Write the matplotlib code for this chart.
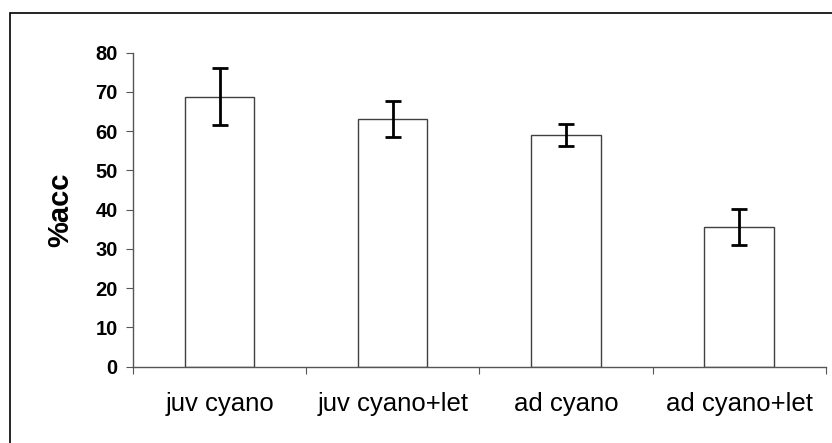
import numpy as np
import matplotlib.pyplot as plt
from matplotlib.patches import Rectangle

categories = ['juv cyano', 'juv cyano+let', 'ad cyano', 'ad cyano+let']
means = [68.8, 63.2, 59.1, 35.7]
errors = [7.2, 4.6, 2.8, 4.6]
yticks = [0, 10, 20, 30, 40, 50, 60, 70, 80]

plt.rcParams['font.family'] = ['Liberation Sans', 'DejaVu Sans']

fig = plt.figure(figsize=(8.32, 4.43), dpi=100)
# outer frame (runs off the right and bottom edges)
fig.patches.append(Rectangle((10 / 832, -0.1), 1.0, 1 - 13 / 443 + 0.1,
                             transform=fig.transFigure, fill=False,
                             edgecolor='black', linewidth=1.2))

ax = fig.add_axes([133 / 832, 1 - 366.7 / 443, (825.7 - 133) / 832, (366.7 - 52.7) / 443])
x = np.arange(len(categories))
ax.bar(x, means, width=0.4, color='white', edgecolor='#404040', linewidth=1.0, zorder=2)
ax.errorbar(x, means, yerr=errors, fmt='none', ecolor='black', elinewidth=2,
            capsize=6, capthick=2, zorder=3)

ax.set_xlim(-0.5, len(categories) - 0.5)
ax.set_ylim(0, 80)
ax.set_yticks(yticks)
ax.set_yticklabels([str(v) for v in yticks], fontsize=14.5, fontweight='bold')
ax.set_xticks(np.arange(len(categories) + 1) - 0.5)
ax.set_xticklabels([])
ax.set_xticks(x, minor=True)
ax.set_xticklabels(categories, minor=True, fontsize=18.5)
ax.tick_params(axis='x', which='minor', length=0, pad=18)
ax.tick_params(axis='x', which='major', length=5, color='#555555', direction='out')
ax.tick_params(axis='y', length=5, color='#555555', pad=6)

for side in ['top', 'right']:
    ax.spines[side].set_visible(False)
for side in ['left', 'bottom']:
    ax.spines[side].set_color('#555555')
    ax.spines[side].set_linewidth(1.0)

ax.set_ylabel('%acc', fontsize=21, fontweight='bold', labelpad=15)

fig.savefig('out.png', dpi=100)
